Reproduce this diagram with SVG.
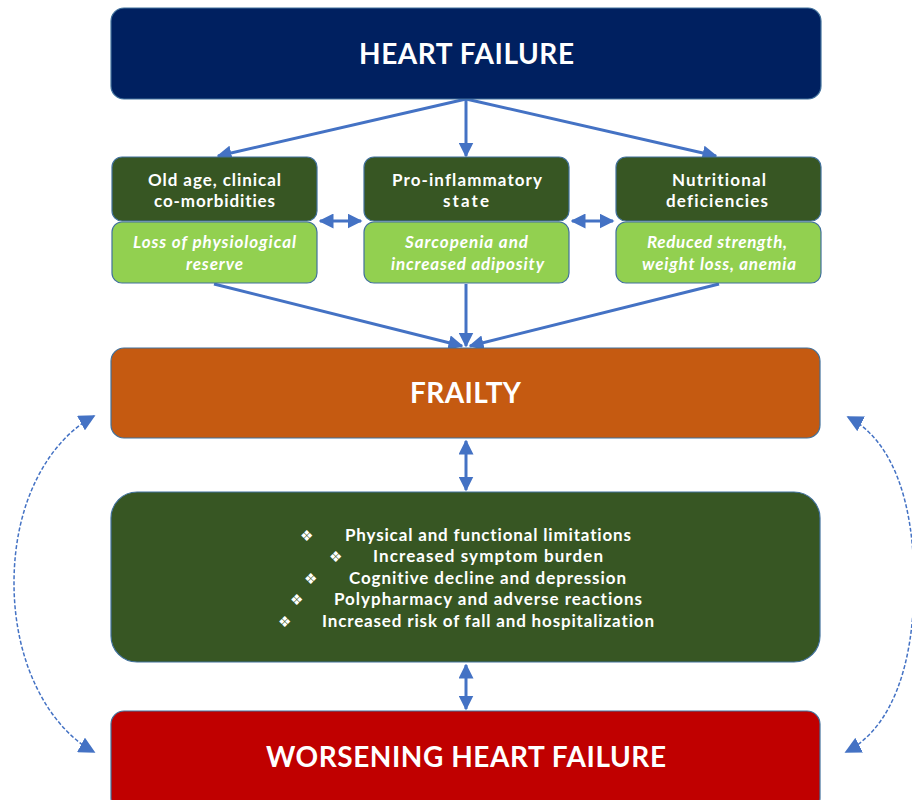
<svg xmlns="http://www.w3.org/2000/svg" width="912" height="800" viewBox="0 0 912 800">
<style>
.box{stroke:#41719C;stroke-width:1.2}
text{font-variant-ligatures:none}
.t{font-family:Lato,"Open Sans",sans-serif;font-weight:bold;fill:#fff;text-anchor:middle}
.big{font-size:28px}
.mid{font-size:17px}
.it{font-style:italic}
.bl{font-family:Lato,"Open Sans",sans-serif;font-weight:bold;fill:#fff;font-size:17px}
.bu{font-family:"DejaVu Sans",sans-serif;fill:#fff;font-size:15px}
.c{stroke:#4472C4;stroke-width:3;fill:none}
.d{stroke:#4472C4;stroke-width:1.5;fill:none;stroke-dasharray:4 2}
</style>
<defs>
<marker id="ah" viewBox="0 0 10 10" refX="9" refY="5" markerWidth="5" markerHeight="5" orient="auto-start-reverse" markerUnits="strokeWidth">
<path d="M0 0L10 5L0 10z" fill="#4472C4"/>
</marker>
<marker id="ahs" viewBox="0 0 10 10" refX="9" refY="5" markerWidth="11" markerHeight="11" orient="auto-start-reverse" markerUnits="strokeWidth">
<path d="M0 0L10 5L0 10z" fill="#4472C4"/>
</marker>
</defs>
<rect width="912" height="800" fill="#fff"/>
<g id="connectors">
<line class="c" x1="466" y1="99" x2="218" y2="156" marker-end="url(#ah)"/>
<line class="c" x1="466" y1="99" x2="466" y2="156" marker-end="url(#ah)"/>
<line class="c" x1="466" y1="99" x2="716" y2="156" marker-end="url(#ah)"/>
<line class="c" x1="320" y1="221" x2="361" y2="221" marker-start="url(#ah)" marker-end="url(#ah)"/>
<line class="c" x1="572" y1="221" x2="613" y2="221" marker-start="url(#ah)" marker-end="url(#ah)"/>
<line class="c" x1="214" y1="284" x2="462" y2="346" marker-end="url(#ah)"/>
<line class="c" x1="466" y1="284" x2="466" y2="346" marker-end="url(#ah)"/>
<line class="c" x1="719" y1="284" x2="470" y2="346" marker-end="url(#ah)"/>
<line class="c" x1="466" y1="441" x2="466" y2="490" marker-start="url(#ah)" marker-end="url(#ah)"/>
<line class="c" x1="466" y1="665" x2="466" y2="709" marker-start="url(#ah)" marker-end="url(#ah)"/>
<path class="d" d="M94 416 C 50 440, 14 500, 14 583 C 14 665, 50 728, 94 752" marker-start="url(#ahs)" marker-end="url(#ahs)"/>
<path class="d" d="M848 417 C 892 440, 914 500, 914 583 C 914 665, 892 728, 846 752" marker-start="url(#ahs)" marker-end="url(#ahs)"/>
</g>
<g id="heart-failure">
<rect class="box" x="111" y="8" width="710" height="91" rx="13" fill="#002060"/>
<text class="t big" x="466.5" y="64" textLength="215">HEART FAILURE</text>
</g>
<g id="old-age">
<rect class="box" x="112" y="157" width="205" height="64" rx="10" fill="#375623"/>
<text class="t mid" x="214.5" y="186" textLength="133">Old age, clinical</text>
<text class="t mid" x="214.5" y="207" textLength="121">co-morbidities</text>
</g>
<g id="loss-reserve">
<rect class="box" x="112" y="222" width="205" height="61" rx="10" fill="#92D050"/>
<text class="t mid it" x="214.5" y="248" textLength="163">Loss of physiological</text>
<text class="t mid it" x="214.5" y="270" textLength="57">reserve</text>
</g>
<g id="pro-inflammatory">
<rect class="box" x="364" y="157" width="205" height="64" rx="10" fill="#375623"/>
<text class="t mid" x="467" y="186" textLength="150">Pro-inflammatory</text>
<text class="t mid" x="466" y="207" textLength="46">state</text>
</g>
<g id="sarcopenia">
<rect class="box" x="364" y="222" width="205" height="61" rx="10" fill="#92D050"/>
<text class="t mid it" x="466.5" y="248" textLength="123">Sarcopenia and</text>
<text class="t mid it" x="467.5" y="270" textLength="153">increased adiposity</text>
</g>
<g id="nutritional">
<rect class="box" x="616" y="157" width="205" height="64" rx="10" fill="#375623"/>
<text class="t mid" x="719" y="186" textLength="94">Nutritional</text>
<text class="t mid" x="717" y="207" textLength="102">deficiencies</text>
</g>
<g id="reduced-strength">
<rect class="box" x="616" y="222" width="205" height="61" rx="10" fill="#92D050"/>
<text class="t mid it" x="717" y="248" textLength="140">Reduced strength,</text>
<text class="t mid it" x="719" y="270" textLength="154">weight loss, anemia</text>
</g>
<g id="frailty">
<rect class="box" x="111" y="348" width="709" height="90" rx="13" fill="#C55A11"/>
<text class="t big" x="465.5" y="403" textLength="111">FRAILTY</text>
</g>
<g id="consequences">
<rect class="box" x="111" y="492" width="709" height="170" rx="26" fill="#375623"/>
<text class="bu" x="300" y="541">❖</text><text class="bl" x="345" y="541" textLength="286">Physical and functional limitations</text>
<text class="bu" x="329" y="562">❖</text><text class="bl" x="373" y="562" textLength="230">Increased symptom burden</text>
<text class="bu" x="304" y="584">❖</text><text class="bl" x="349" y="584" textLength="277">Cognitive decline and depression</text>
<text class="bu" x="290" y="605">❖</text><text class="bl" x="334" y="605" textLength="308">Polypharmacy and adverse reactions</text>
<text class="bu" x="278" y="627">❖</text><text class="bl" x="322" y="627" textLength="332">Increased risk of fall and hospitalization</text>
</g>
<g id="worsening">
<rect class="box" x="111" y="711" width="709" height="100" rx="13" fill="#C00000"/>
<text class="t big" x="466" y="767" textLength="400">WORSENING HEART FAILURE</text>
</g>
</svg>
